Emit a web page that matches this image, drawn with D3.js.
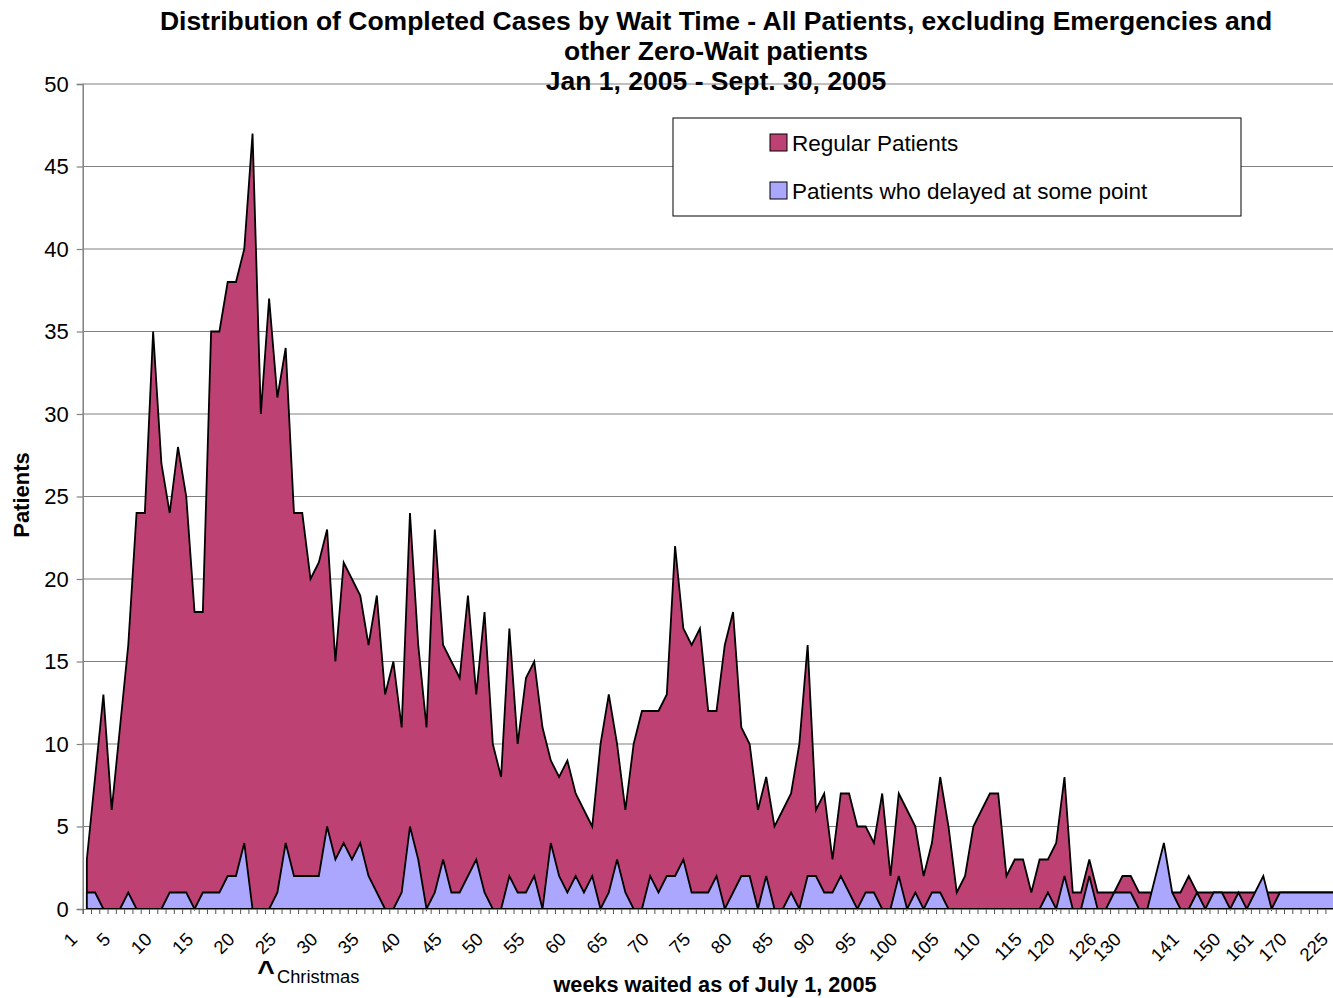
<!DOCTYPE html>
<html>
<head>
<meta charset="utf-8">
<script src="https://cdnjs.cloudflare.com/ajax/libs/d3/7.8.5/d3.min.js"></script>
<style>
  html, body { margin: 0; padding: 0; background: #fff; }
  svg { display: block; font-family: "Liberation Sans", Arial, sans-serif; }
</style>
</head>
<body>
<svg id="chart" width="1333" height="998"></svg>
<script>
// ---- data ----
const weeks = [
  1,2,3,4,5,6,7,8,9,10,11,12,13,14,15,16,17,18,19,20,
  21,22,23,24,25,26,27,28,29,30,31,32,33,34,35,36,37,38,39,40,
  41,42,43,44,45,46,47,48,49,50,51,52,53,54,55,56,57,58,59,60,
  61,62,63,64,65,66,67,68,69,70,71,72,73,74,75,76,77,78,79,80,
  81,82,83,84,85,86,87,88,89,90,91,92,93,94,95,96,97,98,99,100,
  101,102,103,104,105,106,107,108,109,110,111,112,113,114,115,
  116,117,118,120,121,122,123,124,126,127,128,130,
  131,132,133,134,136,138,141,142,143,145,147,150,
  152,155,158,161,163,165,168,170,175,180,190,200,210,225
];
const tickLabels = [1,5,10,15,20,25,30,35,40,45,50,55,60,65,70,75,80,85,90,95,100,105,110,115,120,126,130,141,150,161,170,225];

const regularPatients = [
  3,8,13,6,11,16,24,24,35,27,
  24,28,25,18,18,35,35,38,38,40,
  47,30,37,31,34,24,24,20,21,23,
  15,21,20,19,16,19,13,15,11,24,
  16,11,23,16,15,14,19,13,18,10,
  8,17,10,14,15,11,9,8,9,7,
  6,5,10,13,10,6,10,12,12,12,
  13,22,17,16,17,12,12,16,18,11,
  10,6,8,5,6,7,10,16,6,7,
  3,7,7,5,5,4,7,2,7,6,
  5,2,4,8,5,1,2,5,6,7,
  7,2,3,3,1,3,3,4,8,1,
  1,3,1,1,1,2,2,1,1,1,
  1,1,1,2,1,1,1,1,1,1,
  1,1,1,1,1,1,1,1,1,1,
  1,1,1
];
const delayedPatients = [
  1,1,0,0,0,1,0,0,0,0,
  1,1,1,0,1,1,1,2,2,4,
  0,0,0,1,4,2,2,2,2,5,
  3,4,3,4,2,1,0,0,1,5,
  3,0,1,3,1,1,2,3,1,0,
  0,2,1,1,2,0,4,2,1,2,
  1,2,0,1,3,1,0,0,2,1,
  2,2,3,1,1,1,2,0,1,2,
  2,0,2,0,0,1,0,2,2,1,
  1,2,1,0,1,1,0,0,2,0,
  1,0,1,1,0,0,0,0,0,0,
  0,0,0,0,0,0,1,0,2,0,
  0,2,0,0,1,1,1,0,0,2,
  4,1,0,0,1,0,1,1,0,1,
  0,1,2,0,1,1,1,1,1,1,
  1,1,1
];
const yTicks = [0,5,10,15,20,25,30,35,40,45,50];
const seriesNames = ["Regular Patients", "Patients who delayed at some point"];
const seriesColors = ["#BE4174", "#ABA6FE"];

// ---- layout ----
const svg = d3.select("#chart");
const svgWidth = 1333;
const plotLeft = 82.7, plotTop = 84, plotBottom = 909;
const catStep = 8.285;
const plotRight = plotLeft + catStep * weeks.length;

const x = d3.scaleBand().domain(weeks).range([plotLeft, plotRight]).padding(0);
const cx = w => x(w) + x.bandwidth() / 2;
const y = d3.scaleLinear().domain([0, 50]).range([plotBottom, plotTop]);

// gridlines
svg.append("g").selectAll("line").data(yTicks.filter(v => v > 0)).join("line")
  .attr("x1", plotLeft).attr("x2", plotRight)
  .attr("y1", d => y(d)).attr("y2", d => y(d))
  .attr("stroke", "#808080").attr("stroke-width", 1.2);

// areas
const series = [regularPatients, delayedPatients];
series.forEach((vals, k) => {
  const area = d3.area()
    .x((d, i) => cx(weeks[i]))
    .y0(y(0))
    .y1(d => y(d));
  svg.append("path")
    .datum(vals)
    .attr("d", area)
    .attr("fill", seriesColors[k])
    .attr("stroke", "#000")
    .attr("stroke-width", 1.8)
    .attr("stroke-linejoin", "miter");
});

// y axis
const yAxis = svg.append("g")
  .attr("transform", `translate(${plotLeft},0)`)
  .call(d3.axisLeft(y).tickValues(yTicks).tickSize(6).tickPadding(8));
yAxis.select(".domain").attr("stroke", "#808080").attr("stroke-width", 1.5);
yAxis.selectAll(".tick line").attr("stroke", "#808080").attr("stroke-width", 1.2);
yAxis.selectAll(".tick text").attr("font-size", 22).attr("fill", "#000")
  .attr("font-family", "Liberation Sans, Arial, sans-serif");

// x axis: ticks at category boundaries
const xb = d3.scaleLinear().domain([0, weeks.length]).range([plotLeft, plotRight]);
const xAxisTicks = svg.append("g")
  .attr("transform", `translate(0,${plotBottom})`)
  .call(d3.axisBottom(xb).tickValues(d3.range(0, weeks.length + 1)).tickSize(5).tickFormat(""));
xAxisTicks.select(".domain").attr("stroke", "#808080").attr("stroke-width", 1.2);
xAxisTicks.selectAll(".tick line").attr("stroke", "#555").attr("stroke-width", 1);

// x labels via band axis at centers
const xAxisLabels = svg.append("g")
  .attr("transform", `translate(0,${plotBottom})`)
  .call(d3.axisBottom(x).tickValues(weeks.filter(w => tickLabels.includes(w))).tickSize(0).tickFormat(d => String(d)));
xAxisLabels.select(".domain").remove();
xAxisLabels.selectAll(".tick text")
  .attr("font-size", 18.5)
  .attr("fill", "#000")
  .attr("font-family", "Liberation Sans, Arial, sans-serif")
  .attr("text-anchor", "end")
  .attr("dy", "0.35em")
  .attr("y", 0)
  .attr("transform", "translate(-13,27) rotate(-45)");
// keep labels inside the picture (the last one sits right at the edge)
xAxisLabels.selectAll(".tick text").each(function () {
  const r = this.getBoundingClientRect();
  const over = r.right - (svgWidth - 1);
  if (over > 0) {
    d3.select(this).attr("transform", `translate(${-13 - over},27) rotate(-45)`);
  }
});

// Christmas annotation
svg.append("text").attr("x", 266).attr("y", 981).attr("text-anchor", "middle")
  .attr("font-size", 30).attr("font-weight", "bold").text("^");
svg.append("text").attr("x", 277).attr("y", 983)
  .attr("font-size", 18.3).text("Christmas");

// axis titles
svg.append("text").attr("x", 715).attr("y", 992).attr("text-anchor", "middle")
  .attr("font-size", 21.7).attr("font-weight", "bold").text("weeks waited as of July 1, 2005");
svg.append("text").attr("transform", "translate(29,495) rotate(-90)").attr("text-anchor", "middle")
  .attr("font-size", 22).attr("font-weight", "bold").text("Patients");

// title
const titleLines = [
  "Distribution of Completed Cases by Wait Time - All Patients, excluding Emergencies and",
  "other Zero-Wait patients",
  "Jan 1, 2005 - Sept. 30, 2005"
];
svg.append("g").selectAll("text").data(titleLines).join("text")
  .attr("x", 716).attr("y", (d, i) => 30 + i * 30)
  .attr("text-anchor", "middle").attr("font-size", 26.5).attr("font-weight", "bold")
  .text(d => d);

// legend
const lg = svg.append("g");
lg.append("rect").attr("x", 673).attr("y", 118).attr("width", 568).attr("height", 98)
  .attr("fill", "#fff").attr("stroke", "#000").attr("stroke-width", 1);
seriesNames.forEach((name, k) => {
  lg.append("rect").attr("x", 770).attr("y", 134 + k * 48).attr("width", 17).attr("height", 17)
    .attr("fill", seriesColors[k]).attr("stroke", "#000").attr("stroke-width", 1);
  lg.append("text").attr("x", 792).attr("y", 151 + k * 48)
    .attr("font-size", 22.5).text(name);
});
</script>
</body>
</html>
